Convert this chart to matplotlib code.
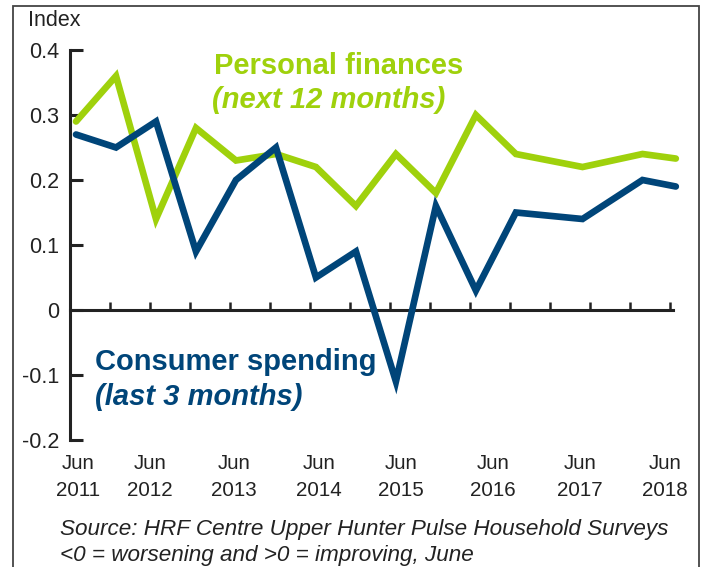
import matplotlib
matplotlib.use("Agg")
import matplotlib.pyplot as plt
import matplotlib.transforms as mtransforms
from matplotlib.patches import Rectangle

# ---- data ----
survey_months = ["2011-06", "2011-12", "2012-06", "2012-12", "2013-06", "2013-12",
                 "2014-06", "2014-12", "2015-06", "2015-12", "2016-06", "2016-12",
                 "2017-10", "2018-07", "2018-12"]
personal_finances = [0.29, 0.36, 0.14, 0.28, 0.23, 0.24, 0.22, 0.16, 0.24, 0.18,
                     0.30, 0.24, 0.22, 0.24, 0.233]
consumer_spending = [0.27, 0.25, 0.29, 0.09, 0.20, 0.25, 0.05, 0.09, -0.11, 0.16,
                     0.03, 0.15, 0.14, 0.20, 0.19]
x_labels = ["Jun\n2011", "Jun\n2012", "Jun\n2013", "Jun\n2014", "Jun\n2015",
            "Jun\n2016", "Jun\n2017", "Jun\n2018"]
y_ticks = [-0.2, -0.1, 0, 0.1, 0.2, 0.3, 0.4]
y_ticklabels = ["-0.2", "-0.1", "0", "0.1", "0.2", "0.3", "0.4"]


def to_year(s):
    y, m = s.split("-")
    return int(y) + (int(m) - 0.5) / 12.0


x = [to_year(s) for s in survey_months]

# ---- layout ----
label_x = [2011.483, 2012.383, 2013.433, 2014.495, 2015.52, 2016.67, 2017.758, 2018.82]
x_left = 2011.383
tick_step = 0.5
n_ticks = 16

plt.rcParams['font.family'] = ['Liberation Sans', 'DejaVu Sans']
GREEN = '#9FD10C'
BLUE = '#004579'
DARK = '#222222'

fig = plt.figure(figsize=(7.08, 5.67), dpi=100)
ax = fig.add_axes([70 / 708, 1 - 440 / 567, (673 - 70) / 708, (440 - 50) / 567])

ax.plot(x, personal_finances, color=GREEN, lw=4.8, solid_capstyle='round',
        solid_joinstyle='miter', clip_on=False, zorder=3)
ax.plot(x, consumer_spending, color=BLUE, lw=4.8, solid_capstyle='round',
        solid_joinstyle='miter', clip_on=False, zorder=4)

x_right = x_left + tick_step * (n_ticks - 1) + 0.04
ax.set_xlim(x_left, x_right)
ax.set_ylim(-0.2, 0.4)

for s in ['top', 'right']:
    ax.spines[s].set_visible(False)
ax.spines['bottom'].set_position(('data', 0))
ax.spines['bottom'].set_linewidth(2.2)
ax.spines['left'].set_linewidth(2.2)
ax.spines['bottom'].set_color(DARK)
ax.spines['left'].set_color(DARK)
ax.spines['left'].set_bounds(-0.2, 0.4)

ax.set_xticks([x_left + tick_step * i for i in range(n_ticks)])
ax.tick_params(axis='x', direction='in', length=6, width=1.8, color=DARK,
               labelbottom=False)
ax.set_yticks(y_ticks)
ax.set_yticklabels(y_ticklabels)
ax.tick_params(axis='y', direction='in', length=9, width=2.2, color=DARK,
               labelsize=15.5, labelcolor=DARK, pad=8)

trans = mtransforms.blended_transform_factory(ax.transData, ax.transAxes)
for lx, lab in zip(label_x, x_labels):
    ax.text(lx, -0.035, lab, transform=trans, ha='center', va='top',
            fontsize=14.8, color=DARK, linespacing=1.55)

fig.text(28 / 708, 1 - 20 / 567, "Index", ha='left', va='center', fontsize=15.5, color=DARK)

fig.text(339 / 708, 1 - 66 / 567, "Personal finances", ha='center', va='center',
         fontsize=21, fontweight='bold', color=GREEN)
fig.text(329 / 708, 1 - 100 / 567, "(next 12 months)", ha='center', va='center',
         fontsize=21, fontweight='bold', style='italic', color=GREEN)
fig.text(95 / 708, 1 - 362 / 567, "Consumer spending", ha='left', va='center',
         fontsize=21, fontweight='bold', color=BLUE)
fig.text(95 / 708, 1 - 397 / 567, "(last 3 months)", ha='left', va='center',
         fontsize=21, fontweight='bold', style='italic', color=BLUE)

fig.text(60 / 708, 1 - 530 / 567, "Source: HRF Centre Upper Hunter Pulse Household Surveys",
         ha='left', va='center', fontsize=16.2, style='italic', color=DARK)
fig.text(60 / 708, 1 - 555 / 567, "<0 = worsening and >0 = improving, June",
         ha='left', va='center', fontsize=16.2, style='italic', color=DARK)

border = Rectangle((13 / 708, -0.05), (699 - 13) / 708, 1.05 - 6 / 567,
                   transform=fig.transFigure, fill=False, edgecolor='#444444',
                   lw=1.3, clip_on=False)
fig.patches.append(border)

fig.savefig("out.png", dpi=100)
